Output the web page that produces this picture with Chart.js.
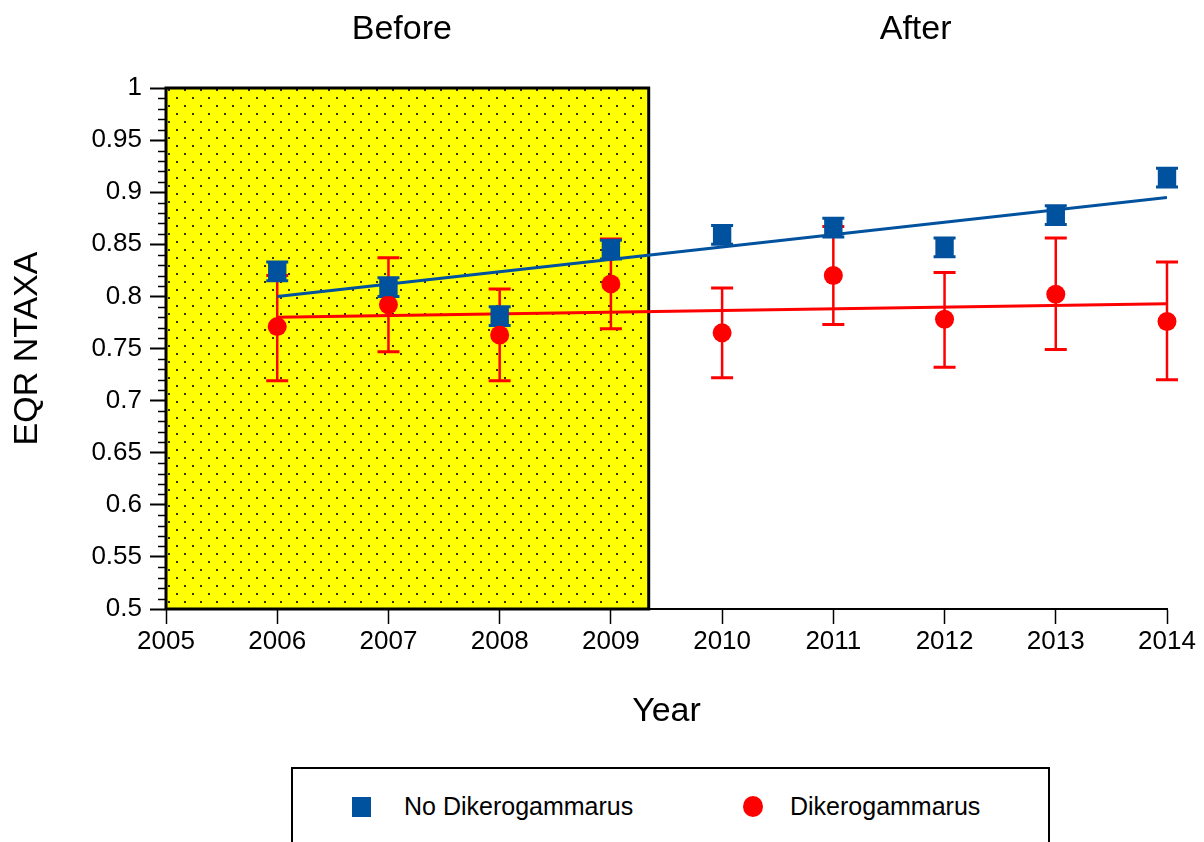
<!DOCTYPE html>
<html>
<head>
<meta charset="utf-8">
<script src="https://cdn.jsdelivr.net/npm/chart.js@4/dist/chart.umd.min.js"></script>
<style>
  html, body { margin: 0; padding: 0; background: #fff; overflow: hidden; }
  #wrap { position: relative; width: 1204px; height: 842px; }
  #legend {
    position: absolute; left: 291px; top: 767px; width: 759px; height: 120px;
    border: 2px solid #000; box-sizing: border-box; background: #fff;
    font-family: "Liberation Sans", Arial, sans-serif; font-size: 25px; color: #000;
  }
  .item { position: absolute; top: 22px; line-height: 30px; }
  .sq { position: absolute; width: 19px; height: 20px; background: rgb(0, 81, 158); }
  .dot { position: absolute; width: 20px; height: 21px; border-radius: 50%; background: #ff0000; }
</style>
</head>
<body>
<div id="wrap">
  <canvas id="chart" width="1204" height="842"></canvas>
  <div id="legend">
    <span class="sq" style="left:59px; top:28px;"></span>
    <span class="item" style="left:111px;">No Dikerogammarus</span>
    <span class="dot" style="left:450px; top:27px;"></span>
    <span class="item" style="left:497px;">Dikerogammarus</span>
  </div>
</div>
<script>
// data
const years = [2006, 2007, 2008, 2009, 2010, 2011, 2012, 2013, 2014];
const noDikeMean = [0.824, 0.809, 0.781, 0.845, 0.859, 0.866, 0.847, 0.878, 0.914];
const noDikeErr = [0.009, 0.009, 0.009, 0.009, 0.009, 0.009, 0.009, 0.009, 0.009];
const dikeMean = [0.771, 0.792, 0.763, 0.812, 0.765, 0.820, 0.778, 0.802, 0.776];
const dikeUpper = [0.820, 0.837, 0.807, 0.855, 0.808, 0.867, 0.823, 0.856, 0.833];
const dikeLower = [0.719, 0.747, 0.719, 0.769, 0.722, 0.773, 0.732, 0.749, 0.720];

const trendYears = [2006, 2014];
const noDikeTrend = [0.800, 0.895];
const dikeTrend = [0.780, 0.793];

const periodLabels = ['Before', 'After'];
const periodLabelX = [2007.12, 2011.74];
const beforeStart = 2005;
const beforeEnd = 2009.34;

const BLUE = 'rgb(0, 81, 158)';
const RED = '#ff0000';
const FONT = '"Liberation Sans", Arial, sans-serif';

const toPoints = (xs, ys) => xs.map((x, i) => ({ x: x, y: ys[i] }));

function dotPattern(ctx) {
  const c = document.createElement('canvas');
  c.width = 16; c.height = 16;
  const p = c.getContext('2d');
  p.fillStyle = '#ffff00';
  p.fillRect(0, 0, 16, 16);
  p.fillStyle = '#333300';
  p.fillRect(0, 1, 2, 2);
  p.fillRect(8, 9, 2, 2);
  return ctx.createPattern(c, 'repeat');
}

function errorBar(ctx, pxOf, pyOf, lows, highs, color, cap) {
  ctx.strokeStyle = color;
  years.forEach((v, i) => {
    const px = pxOf(v);
    const lo = pyOf(lows[i]);
    const hi = pyOf(highs[i]);
    ctx.lineWidth = 2.5;
    ctx.beginPath();
    ctx.moveTo(px, lo); ctx.lineTo(px, hi);
    ctx.stroke();
    ctx.lineWidth = 3;
    ctx.beginPath();
    ctx.moveTo(px - cap / 2, lo); ctx.lineTo(px + cap / 2, lo);
    ctx.moveTo(px - cap / 2, hi); ctx.lineTo(px + cap / 2, hi);
    ctx.stroke();
  });
}

const backdrop = {
  id: 'backdrop',
  beforeDatasetsDraw(chart) {
    const { ctx, scales: { x, y } } = chart;
    const l = x.getPixelForValue(beforeStart);
    const r = x.getPixelForValue(beforeEnd);
    const t = y.getPixelForValue(y.max);
    const b = y.getPixelForValue(y.min);
    ctx.save();
    ctx.fillStyle = dotPattern(ctx);
    ctx.fillRect(l, t, r - l, b - t);
    ctx.lineWidth = 3;
    ctx.strokeStyle = '#000';
    ctx.strokeRect(l, t, r - l, b - t);

    // error bars, under the markers
    const pxOf = v => x.getPixelForValue(v);
    const pyOf = v => y.getPixelForValue(v);
    errorBar(ctx, pxOf, pyOf, dikeLower, dikeUpper, RED, 22);
    errorBar(ctx, pxOf, pyOf,
      noDikeMean.map((m, i) => m - noDikeErr[i]),
      noDikeMean.map((m, i) => m + noDikeErr[i]), BLUE, 22);
    ctx.restore();
  },
  afterDraw(chart) {
    const { ctx, scales: { x, y } } = chart;
    ctx.save();
    // minor ticks on y
    ctx.strokeStyle = '#000';
    ctx.lineWidth = 1.5;
    for (let v = 50; v <= 100; v++) {
      if (v % 5 === 0) continue;
      const py = Math.round(y.getPixelForValue(v / 100)) + 0.5;
      ctx.beginPath();
      ctx.moveTo(x.left - 8, py); ctx.lineTo(x.left, py);
      ctx.stroke();
    }
    // period labels
    ctx.fillStyle = '#000';
    ctx.font = '34px ' + FONT;
    ctx.textAlign = 'center';
    ctx.textBaseline = 'middle';
    periodLabels.forEach((s, i) => {
      ctx.fillText(s, x.getPixelForValue(periodLabelX[i]), 30);
    });
    ctx.restore();
  }
};

new Chart(document.getElementById('chart'), {
  type: 'scatter',
  data: {
    datasets: [
      {
        label: 'No Dikerogammarus',
        data: toPoints(years, noDikeMean),
        pointStyle: 'rect',
        pointRadius: 13,
        pointHoverRadius: 13,
        backgroundColor: BLUE,
        borderColor: BLUE,
        borderWidth: 0,
        clip: false,
      },
      {
        label: 'Dikerogammarus',
        data: toPoints(years, dikeMean),
        pointStyle: 'circle',
        pointRadius: 9.5,
        pointHoverRadius: 9.5,
        backgroundColor: RED,
        borderColor: RED,
        borderWidth: 0,
        clip: false,
      },
      {
        type: 'line',
        label: 'trend no',
        data: toPoints(trendYears, noDikeTrend),
        borderColor: BLUE,
        borderWidth: 3,
        pointRadius: 0,
        fill: false,
      },
      {
        type: 'line',
        label: 'trend dike',
        data: toPoints(trendYears, dikeTrend),
        borderColor: RED,
        borderWidth: 3,
        pointRadius: 0,
        fill: false,
      },
    ],
  },
  options: {
    responsive: false,
    animation: false,
    devicePixelRatio: 1,
    layout: { padding: { top: 88, right: 37, left: 0, bottom: 106 } },
    plugins: {
      legend: { display: false },
      tooltip: { enabled: false },
    },
    scales: {
      x: {
        type: 'linear',
        min: 2005,
        max: 2014,
        z: 1,
        afterFit: (s) => { s.height = 127; },
        border: { color: '#000', width: 2 },
        grid: { drawOnChartArea: false, tickLength: 15, tickColor: '#000', tickWidth: 1.5 },
        ticks: {
          stepSize: 1,
          padding: 2,
          color: '#000',
          font: { family: FONT, size: 26 },
          maxRotation: 0,
          callback: (v) => String(v),
        },
        title: {
          display: true,
          text: 'Year',
          color: '#000',
          font: { family: FONT, size: 34 },
          padding: { top: 0, bottom: 4 },
        },
      },
      y: {
        min: 0.5,
        max: 1,
        z: 1,
        afterFit: (s) => { s.width = 166; },
        border: { color: '#000', width: 3 },
        grid: { drawOnChartArea: false, tickLength: 16, tickColor: '#000', tickWidth: 2 },
        ticks: {
          stepSize: 0.05,
          padding: 8,
          color: '#000',
          font: { family: FONT, size: 26 },
          callback: (v) => String(+v.toFixed(2)),
        },
        title: {
          display: true,
          text: 'EQR NTAXA',
          color: '#000',
          font: { family: FONT, size: 34 },
          padding: { top: 7, bottom: 0 },
        },
      },
    },
  },
  plugins: [backdrop],
});
</script>
</body>
</html>
